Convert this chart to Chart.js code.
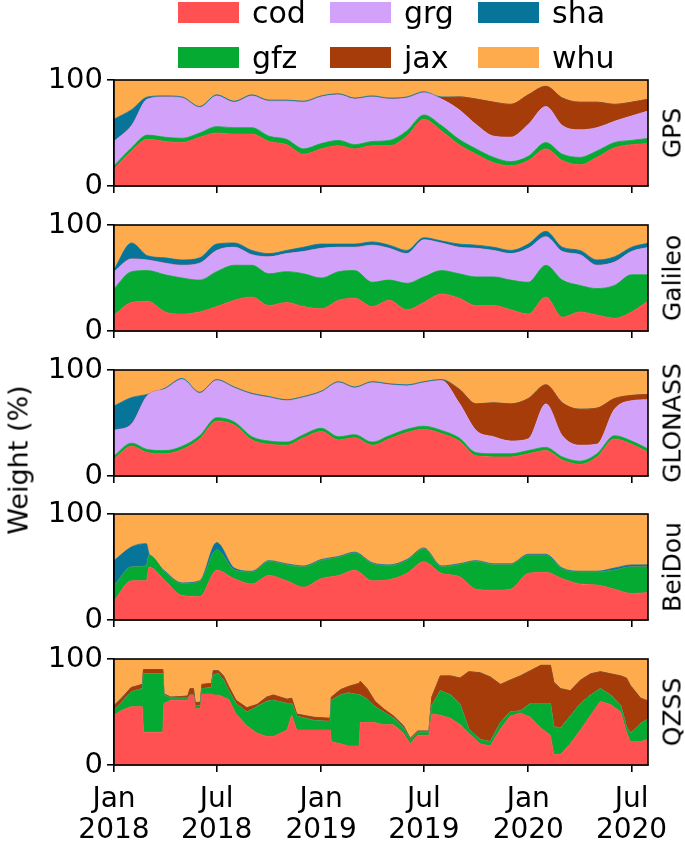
<!DOCTYPE html>
<html><head><meta charset="utf-8">
<script src="https://cdn.jsdelivr.net/npm/chart.js@4.4.1/dist/chart.umd.min.js"></script>
<style>
body{margin:0;background:#fff;}
#wrap{position:relative;width:685px;height:844px;overflow:hidden;font-family:"DejaVu Sans",sans-serif;color:#000;}
.panel{position:absolute;left:0;width:685px;}
.rlab{position:absolute;font-size:25px;white-space:nowrap;transform:translate(-50%,-50%) rotate(-90deg);}
.lbox{position:absolute;width:61px;height:21px;}
.ltxt{position:absolute;font-size:30px;line-height:30px;white-space:nowrap;}
</style></head><body>
<div id="wrap"></div>
<script>
// ---- sample positions (day offsets from 2018-01-01) ----
const months = [0,31,59,90,120,151,181,212,243,273,304,334,365,396,424,455,485,516,546,577,608,638,669,699,730,761,790,821,851,882,912,943];
const bdsDays = [0,31,57,62,90,120,151,181,212,243,273,304,334,365,396,424,455,485,516,546,577,608,638,669,699,730,761,790,821,851,882,912,943];
const qzsDays = [0,15,30,50,52,86,88,100,130,134,140,143,152,155,172,175,184,193,202,215,234,252,269,281,305,313,322,352,381,383,399,413,432,434,446,460,475,493,510,522,535,555,560,575,593,610,625,645,663,681,698,716,734,752,769,775,787,804,822,840,857,875,893,903,910,928,943];
const tickDays = [0,181,365,546,730,912];
const tickLabels = [["Jan","2018"],["Jul","2018"],["Jan","2019"],["Jul","2019"],["Jan","2020"],["Jul","2020"]];
const yTicks = [0,100];
const systems = ["GPS","Galileo","GLONASS","BeiDou","QZSS"];
const centers = ["cod","gfz","grg","jax","sha","whu"];
const colors = {cod:"#ff5052",gfz:"#05aa32",grg:"#d2a2fa",jax:"#a73c0b",sha:"#07759a",whu:"#feab4d"};

// ---- weights (%) ----
const gpsCod = [16,33,44,42,41,46,50,49,49,42,39,30,35,38,35,38,38,47,63,52,39,30,22,19,24,35,24,20,27,36,39,40];
const gpsGfz = [3,3,4,4,4,4,6,6,6,5,5,5,5,5,4,4,5,5,4,5,5,5,5,4,4,6,6,7,6,5,4,5];
const gpsGrg = [23,21,34,38,38,24,29,24,30,33,36,44,44,43,43,42,39,31,21,25,28,23,20,23,30,34,27,26,22,20,23,26];
const gpsJax = [0,0,0,0,0,0,0,0,0,0,0,0,0,0,0,0,0,0,0,1,12,24,32,31,28,19,26,26,24,16,13,11];
const gpsSha = [21,15,2,1,1,1,1,1,1,1,1,1,1,1,1,1,1,1,1,1,0,0,0,0,0,0,0,0,0,0,0,0];
const gpsWhu = [37,28,16,15,16,25,14,20,14,19,19,20,15,13,17,15,17,16,11,16,16,18,21,23,14,6,17,21,21,23,21,18];

const galCod = [15,27,28,18,16,18,23,29,32,24,27,23,21,29,31,23,29,20,27,35,31,24,24,20,16,32,13,18,15,12,18,29];
const galGfz = [25,29,29,35,34,30,33,33,30,30,29,31,29,27,26,23,19,25,24,22,23,27,27,28,30,30,35,25,25,31,35,24];
const galGrg = [16,12,10,11,12,16,20,17,10,16,17,21,28,23,22,35,30,28,35,26,25,27,25,25,32,27,27,29,22,22,22,26];
const galJax = [0,0,0,0,0,0,0,0,0,0,0,0,0,0,0,0,0,0,0,0,0,0,0,0,0,0,0,0,0,0,0,0];
const galSha = [2,15,4,5,5,5,6,4,4,3,3,4,4,3,3,3,3,3,2,2,3,3,3,3,4,5,4,4,5,5,4,4];
const galWhu = [42,17,29,31,33,31,18,17,24,27,24,21,18,18,18,16,19,24,12,15,18,19,21,24,18,6,21,24,33,30,21,17];

const gloCod = [16,28,22,21,25,35,52,48,34,30,29,36,42,34,36,29,35,41,44,40,33,19,18,18,21,24,15,11,18,35,30,22];
const gloGfz = [3,3,3,3,3,3,3,3,3,3,3,3,3,3,3,3,3,3,3,3,3,3,3,3,3,3,3,3,3,3,3,3];
const gloGrg = [24,18,51,58,63,40,35,32,40,41,39,35,34,51,44,56,48,41,41,47,33,21,16,12,11,41,20,15,9,25,38,47];
const gloJax = [0,0,0,0,0,0,0,0,0,0,0,0,0,0,0,0,0,0,0,0,13,25,32,35,38,18,31,34,34,10,5,5];
const gloSha = [23,25,1,1,1,1,1,1,1,1,1,1,1,1,1,1,1,1,1,1,0,0,0,0,0,0,0,0,0,0,0,0];
const gloWhu = [34,26,23,17,8,21,9,16,22,25,28,25,20,11,16,11,13,14,11,9,18,32,31,32,27,14,31,37,36,27,24,23];

const bdsCod = [18,37,37,50,37,23,22,47,39,34,42,37,31,39,42,47,37,38,44,55,44,41,29,28,29,44,45,39,34,33,29,25,26];
const bdsGfz = [14,13,14,11,8,11,14,19,8,11,13,15,19,17,17,16,16,13,12,12,6,11,26,24,23,17,16,9,11,12,18,25,24];
const bdsGrg = [0,0,0,0,0,0,0,0,0,0,0,0,0,0,0,0,0,0,0,0,0,0,0,0,0,0,0,0,0,0,0,0,0];
const bdsJax = [0,0,0,0,0,0,0,0,0,0,0,0,0,0,0,0,0,0,0,0,0,0,0,0,0,0,0,0,0,0,0,0,0];
const bdsSha = [24,19,21,1,1,1,1,7,2,1,1,1,1,1,1,1,1,1,1,1,1,1,1,1,1,1,1,1,1,1,2,2,2];
const bdsWhu = [44,31,28,38,54,65,63,27,51,54,44,47,49,43,40,36,46,48,43,32,49,47,44,47,47,38,38,51,54,54,51,48,48];

const qzsCod = [47,52,55,55,31,31,58,61,61,66,66,53,53,67,67,66,66,64,62,48,37,30,27,27,33,47,33,33,33,22,20,18,18,40,40,40,38,38,30,20,28,28,48,47,44,38,30,20,18,34,46,49,45,35,28,10,10,20,33,47,60,57,50,31,22,22,25];
const qzsGfz = [5,8,14,17,55,55,8,2,2,0,0,3,3,5,6,19,20,16,8,10,13,25,33,34,25,11,13,9,8,39,46,50,48,26,22,15,12,6,5,4,3,3,8,23,22,19,4,4,4,6,4,2,13,23,30,26,25,26,25,19,12,9,6,5,8,17,19];
const qzsGrg = [0,0,0,0,0,0,0,0,0,0,0,0,0,0,0,0,0,0,0,0,0,0,0,0,0,0,0,0,0,0,0,0,0,0,0,0,0,0,0,0,0,0,0,0,0,0,0,0,0,0,0,0,0,0,0,0,0,0,0,0,0,0,0,0,0,0,0];
const qzsJax = [4,4,4,4,4,4,1,1,2,6,6,3,3,4,4,4,3,4,4,3,4,2,4,5,4,5,2,3,3,3,5,6,11,13,10,5,3,2,2,1,1,1,8,14,18,25,54,63,61,36,30,33,31,36,36,42,37,24,22,20,16,20,28,46,45,24,16];
const qzsSha = [0,0,0,0,0,0,0,0,0,0,0,0,0,0,0,0,0,0,0,0,0,0,0,0,0,0,0,0,0,0,0,0,0,0,0,0,0,0,0,0,0,0,0,0,0,0,0,0,0,0,0,0,0,0,0,0,0,0,0,0,0,0,0,0,0,0,0];
const qzsWhu = [44,36,27,24,10,10,33,36,35,28,28,41,41,24,23,11,11,16,26,39,46,43,36,34,38,37,52,55,56,36,29,26,23,21,28,40,47,54,63,75,68,68,36,16,16,18,12,13,17,24,20,16,11,6,6,22,28,30,20,14,12,14,16,18,25,37,40];

const panelData = [
  [gpsCod,gpsGfz,gpsGrg,gpsJax,gpsSha,gpsWhu],
  [galCod,galGfz,galGrg,galJax,galSha,galWhu],
  [gloCod,gloGfz,gloGrg,gloJax,gloSha,gloWhu],
  [bdsCod,bdsGfz,bdsGrg,bdsJax,bdsSha,bdsWhu],
  [qzsCod,qzsGfz,qzsGrg,qzsJax,qzsSha,qzsWhu]
];
const panelDays = [months, months, months, bdsDays, qzsDays];
const panelSmooth = [true, true, true, true, false];

// ---- layout ----
const plotTops = [80,225,369.5,514,659];
const plotH = 106, padTop = 16, plotLeft = 114, plotRight = 648, W = 685;

Chart.defaults.font.family = '"DejaVu Sans", sans-serif';
Chart.defaults.color = '#000';

const wrap = document.getElementById('wrap');

const spinePlugin = {
  id:'spine',
  afterDatasetsDraw(chart){
    const {ctx, chartArea:a} = chart;
    ctx.save(); ctx.strokeStyle='#000'; ctx.lineWidth=1.6;
    ctx.strokeRect(a.left, a.top, a.right-a.left, a.bottom-a.top);
    ctx.restore();
  }
};

function noPad(s){ s.paddingTop=0; s.paddingBottom=0; s.paddingLeft=0; s.paddingRight=0; }

systems.forEach((sys, p) => {
  const last = p === systems.length-1;
  const xh = last ? 82 : 14;
  const H = padTop + plotH + xh;
  const div = document.createElement('div');
  div.className='panel';
  div.style.top = (plotTops[p]-padTop)+'px';
  div.style.height = H+'px';
  const cv = document.createElement('canvas');
  cv.width = W; cv.height = H;
  cv.style.width = W+'px'; cv.style.height = H+'px';
  div.appendChild(cv); wrap.appendChild(div);

  const days = panelDays[p];
  const datasets = centers.map((c, k) => ({
    label: c,
    data: panelData[p][k].map((v,i)=>({x:days[i], y:v})),
    backgroundColor: colors[c],
    borderColor: colors[c],
    borderWidth: 0.8,
    pointRadius: 0,
    fill: k===0 ? 'origin' : '-1',
    tension: 0,
    cubicInterpolationMode: panelSmooth[p] ? 'monotone' : 'default'
  }));

  new Chart(cv, {
    type:'line',
    data:{datasets},
    options:{
      responsive:false, animation:false, devicePixelRatio:1,
      layout:{padding:{top:padTop,right:W-plotRight,left:0,bottom:0}},
      plugins:{legend:{display:false}, tooltip:{enabled:false}},
      scales:{
        x:{type:'linear', min:0, max:941,
           afterBuildTicks(s){ s.ticks = tickDays.map(v=>({value:v})); },
           afterFit(s){ s.height = xh; noPad(s); },
           ticks:{display:last, autoSkip:false, maxRotation:0, padding:12,
                  font:{size:28, lineHeight:1.12},
                  callback:(v,i)=>tickLabels[i]},
           grid:{display:true, drawOnChartArea:false, drawTicks:true, tickLength:7, color:'#000', lineWidth:1.6},
           border:{display:true, color:'#000', width:1.6}},
        y:{stacked:true, min:0, max:100,
           afterBuildTicks(s){ s.ticks = yTicks.map(v=>({value:v})); },
           afterFit(s){ s.width = plotLeft; noPad(s); },
           ticks:{padding:4, font:{size:29}},
           grid:{display:true, drawOnChartArea:false, drawTicks:true, tickLength:7, color:'#000', lineWidth:1.6},
           border:{display:true, color:'#000', width:1.6}}
      }
    },
    plugins:[spinePlugin]
  });

  const lab = document.createElement('div');
  lab.className='rlab'; lab.textContent = sys;
  lab.style.left = '672px'; lab.style.top = (plotTops[p]+plotH/2)+'px';
  wrap.appendChild(lab);
});

// y label
const yl = document.createElement('div');
yl.className='rlab'; yl.style.fontSize='27px'; yl.textContent='Weight (%)';
yl.style.left='18px'; yl.style.top='460px';
wrap.appendChild(yl);

// legend (3 columns x 2 rows, column-major order)
const legCols = [178,330,478];
const legRows = [2,47];
centers.forEach((c,k)=>{
  const col = Math.floor(k/2), row = k%2;
  const b = document.createElement('div');
  b.className='lbox'; b.style.background=colors[c];
  b.style.left=legCols[col]+'px'; b.style.top=legRows[row]+'px';
  wrap.appendChild(b);
  const t = document.createElement('div');
  t.className='ltxt'; t.textContent=c;
  t.style.left=(legCols[col]+74)+'px'; t.style.top=(legRows[row]-4)+'px';
  wrap.appendChild(t);
});
</script>
</body></html>
